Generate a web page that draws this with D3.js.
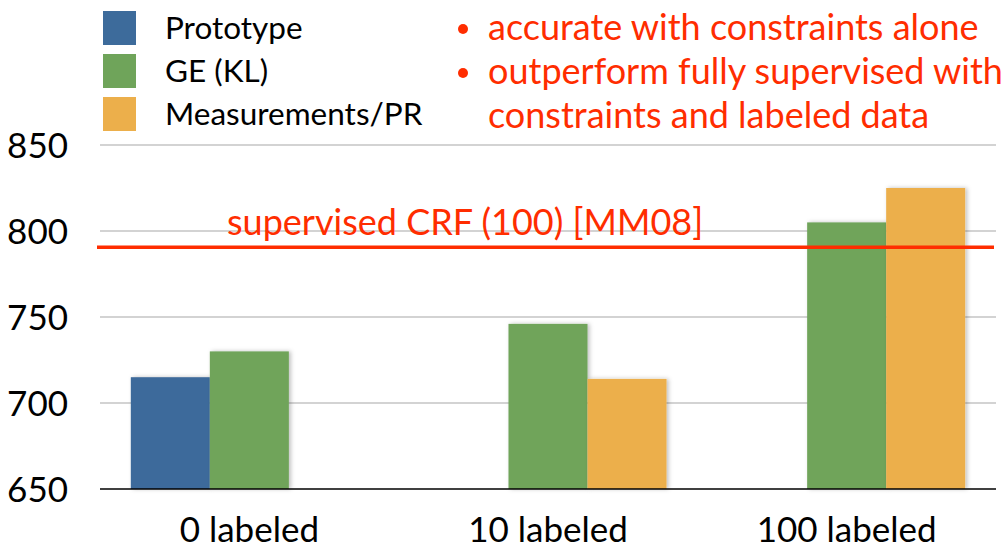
<!DOCTYPE html>
<html>
<head>
<meta charset="utf-8">
<script src="https://cdn.jsdelivr.net/npm/d3@7"></script>
<style>
  body { margin: 0; background: #fff; }
  text { font-family: Lato, "Open Sans", sans-serif; }
</style>
</head>
<body>
<svg width="1005" height="548"></svg>
<script>
var categories = ["0 labeled", "10 labeled", "100 labeled"];
var seriesNames = ["Prototype", "GE (KL)", "Measurements/PR"];
var seriesColors = ["#3d6b9b", "#6fa45a", "#ecaf4b"];
// null = no bar for that group
var prototype = [715, null, null];
var geKL = [730, 746, 805];
var measurementsPR = [null, 714, 825];
var yTicks = [650, 700, 750, 800, 850];
var supervisedCRF = 790.5;
var supervisedLabel = "supervised CRF (100) [MM08]";
var bullets = ["accurate with constraints alone", "outperform fully supervised with"];
var bulletCont = "constraints and labeled data";

var svg = d3.select("svg");
var seriesValues = [prototype, geKL, measurementsPR];

var x0 = d3.scaleBand().domain(categories).range([100, 996]).padding(0);
var x1 = d3.scaleBand().domain(seriesNames).range([0, x0.bandwidth()]).paddingOuter(0.39).paddingInner(0);
var y = d3.scaleLinear().domain([650, 850]).range([489, 145]);

var defs = svg.append("defs");
var f = defs.append("filter").attr("id", "shadow").attr("x", "-10%").attr("y", "-10%").attr("width", "130%").attr("height", "130%");
f.append("feDropShadow").attr("dx", 2).attr("dy", 0).attr("stdDeviation", 2).attr("flood-color", "#000").attr("flood-opacity", 0.25);

// grid
svg.append("g").selectAll("line")
    .data(yTicks.filter(function(d) { return d > 650; }))
    .enter().append("line")
    .attr("x1", 100).attr("x2", 996)
    .attr("y1", function(d) { return y(d); })
    .attr("y2", function(d) { return y(d); })
    .attr("stroke", "#c4c4c4")
    .attr("stroke-width", 1.5);

// y tick labels
svg.append("g").selectAll("text")
    .data(yTicks)
    .enter().append("text")
    .attr("x", 68)
    .attr("y", function(d) { return y(d) + 13; })
    .attr("text-anchor", "end")
    .style("font-size", "35px")
    .style("fill", "#000")
    .text(function(d) { return d; });

// bars
var rows = [];
categories.forEach(function(c, i) {
    seriesNames.forEach(function(s, j) {
        var v = seriesValues[j][i];
        if (v != null) rows.push({cat: c, series: s, idx: j, value: v});
    });
});

svg.append("g").selectAll("rect")
    .data(rows)
    .enter().append("rect")
    .attr("x", function(d) { return x0(d.cat) + x1(d.series); })
    .attr("y", function(d) { return y(d.value); })
    .attr("width", x1.bandwidth())
    .attr("height", function(d) { return y(650) - y(d.value); })
    .attr("fill", function(d) { return seriesColors[d.idx]; })
    .attr("filter", "url(#shadow)");

// baseline
svg.append("line")
    .attr("x1", 100).attr("x2", 996)
    .attr("y1", y(650)).attr("y2", y(650))
    .attr("stroke", "#000").attr("stroke-width", 1.5);

// x labels
svg.append("g").selectAll("text")
    .data(categories)
    .enter().append("text")
    .attr("x", function(d) { return x0(d) + x0.bandwidth() / 2; })
    .attr("y", 542)
    .attr("text-anchor", "middle")
    .style("font-size", "35px")
    .style("fill", "#000")
    .text(function(d) { return d; });

// supervised line
svg.append("line")
    .attr("x1", 97).attr("x2", 994)
    .attr("y1", y(supervisedCRF)).attr("y2", y(supervisedCRF))
    .attr("stroke", "#ff2d00").attr("stroke-width", 3.5);
svg.append("text")
    .attr("x", 227).attr("y", 235)
    .style("font-size", "36px")
    .style("fill", "#ff2d00")
    .text(supervisedLabel);

// legend
var leg = svg.append("g").selectAll("g")
    .data(seriesNames)
    .enter().append("g")
    .attr("transform", function(d, i) { return "translate(103," + (11 + i * 43) + ")"; });
leg.append("rect")
    .attr("width", 33).attr("height", 34)
    .attr("fill", function(d, i) { return seriesColors[i]; });
leg.append("text")
    .attr("x", 62).attr("y", 28)
    .style("font-size", "31.5px")
    .style("fill", "#000")
    .text(function(d) { return d; });

// bullets
var bl = svg.append("g").selectAll("g")
    .data(bullets)
    .enter().append("g")
    .attr("transform", function(d, i) { return "translate(0," + (40 + i * 44) + ")"; });
bl.append("circle")
    .attr("cx", 463).attr("cy", -11).attr("r", 5)
    .attr("fill", "#ff2d00");
bl.append("text")
    .attr("x", 488).attr("y", 0)
    .style("font-size", "36px")
    .style("fill", "#ff2d00")
    .text(function(d) { return d; });
svg.append("text")
    .attr("x", 488).attr("y", 128)
    .style("font-size", "36px")
    .style("fill", "#ff2d00")
    .text(bulletCont);
</script>
</body>
</html>
